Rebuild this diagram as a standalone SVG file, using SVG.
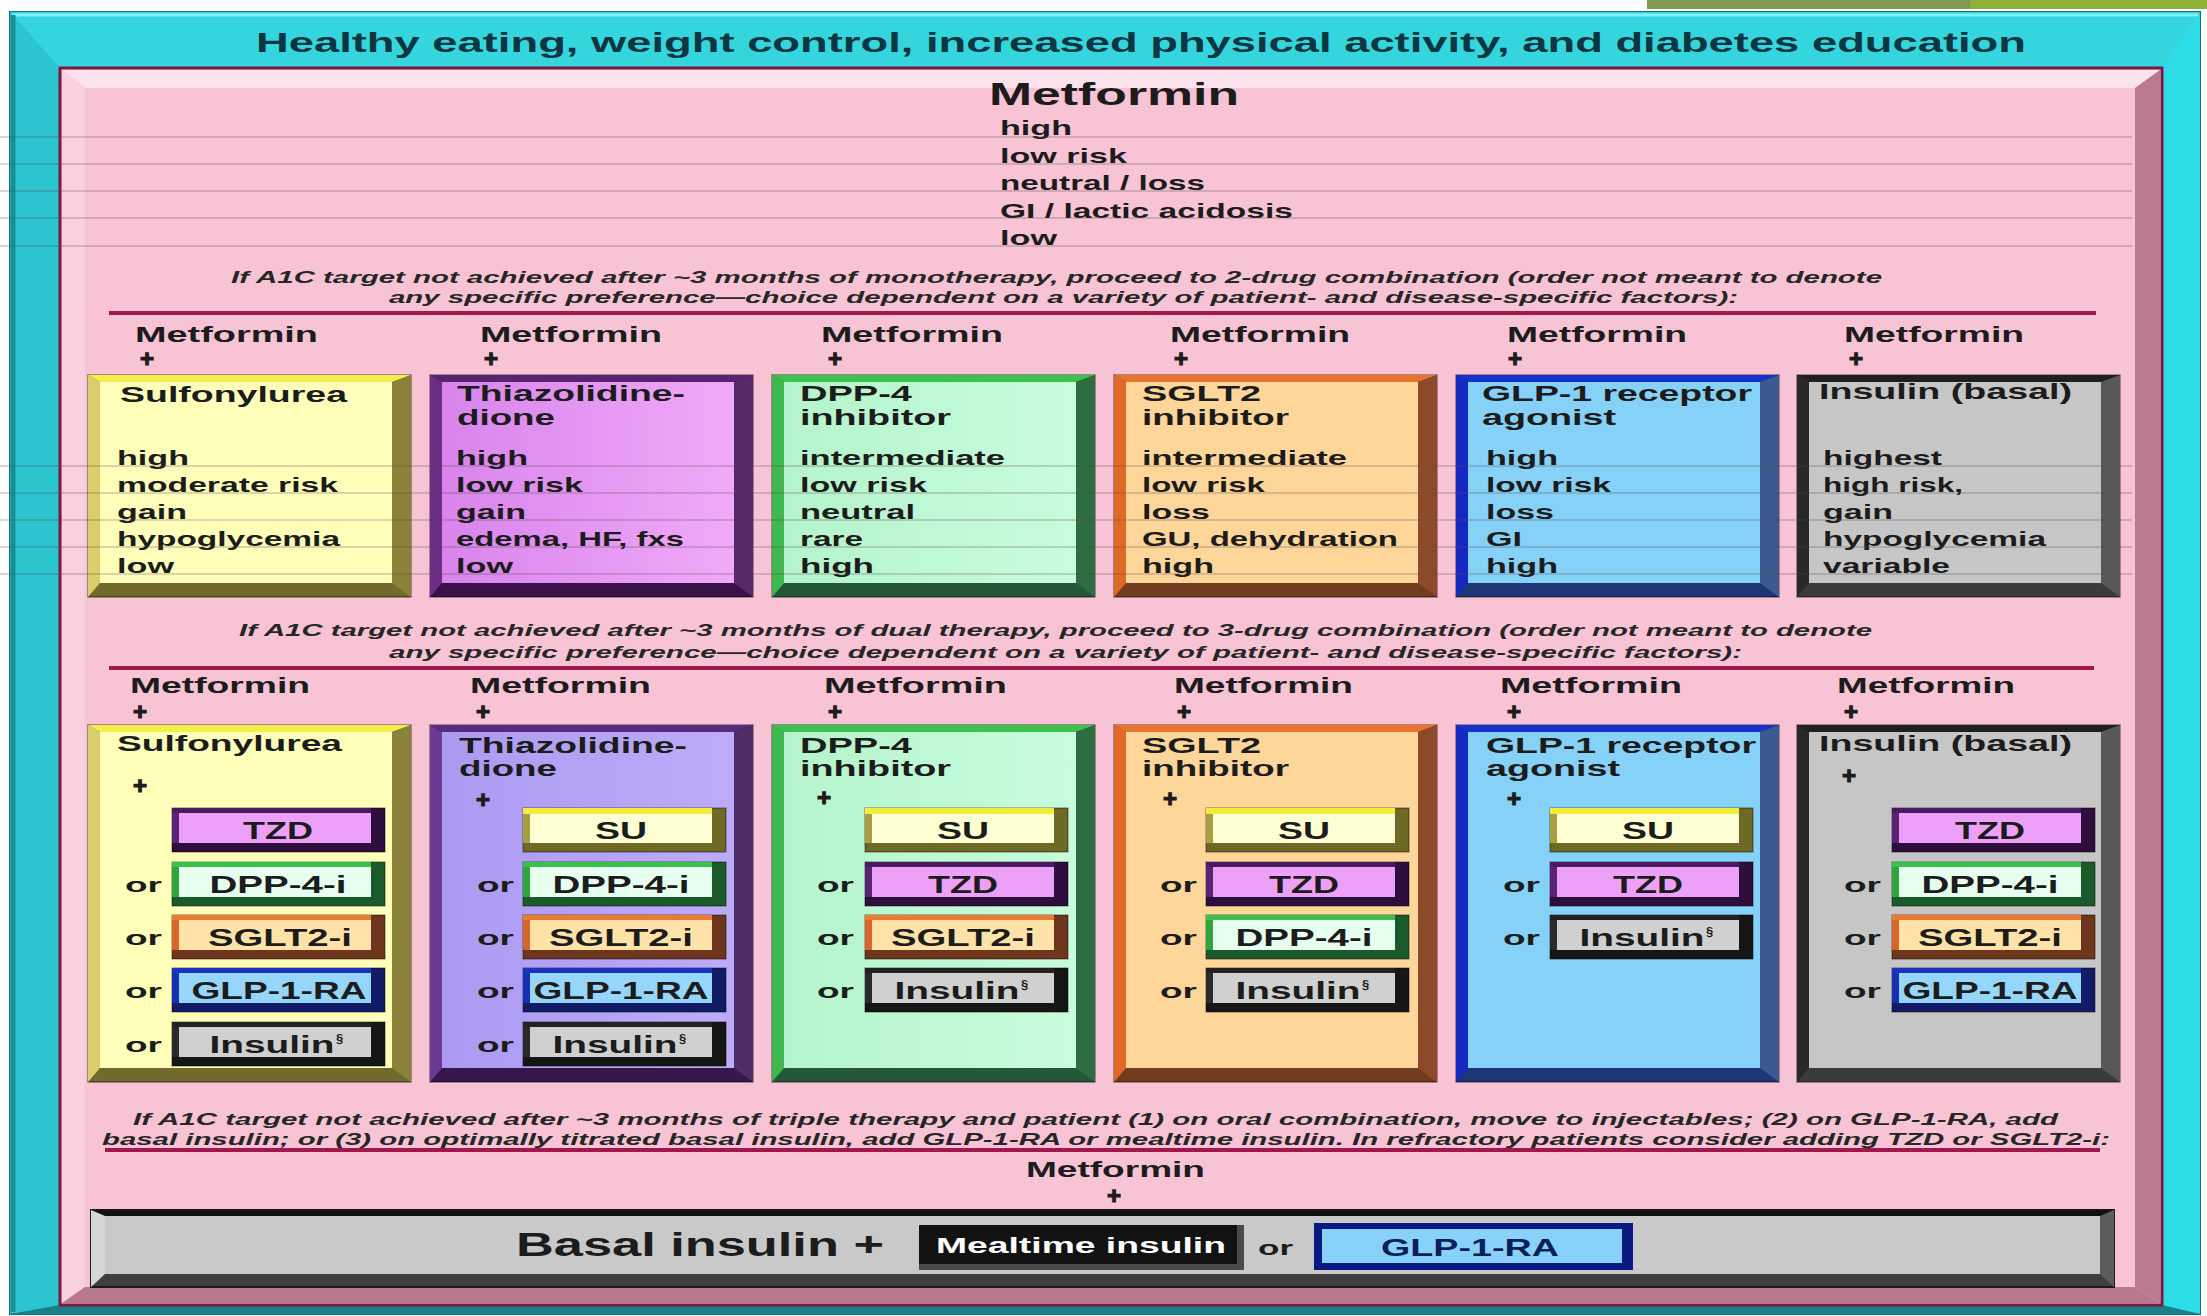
<svg xmlns="http://www.w3.org/2000/svg" width="2207" height="1316" viewBox="0 0 2207 1316">
<style>
text{font-family:"Liberation Sans",Arial,Helvetica,sans-serif;font-weight:bold;fill:#1c1c1c}
.hd{font-size:28px;fill:#0c3642}
.mt{font-size:31px}
.pr{font-size:21px}
.lb{font-size:22px}
.tt{font-size:22px}
.it{font-size:17px;font-style:italic;fill:#262626}
.pl{font-size:24px;text-anchor:middle;stroke:#1c1c1c;stroke-width:1.2}
.pt{font-size:23px;text-anchor:middle}
.or{font-size:20px}
.sx{font-size:13px}
.fl{stroke:#5a4650;stroke-width:2;opacity:.22}
.dv{stroke:#a0184e;stroke-width:4}
.bx .b{stroke:#000;stroke-opacity:.45;stroke-width:1.5}
.bsu .t{fill:#f4ee48}.bsu .l{fill:#d9cd6c}.bsu .r{fill:#8a8238}.bsu .b{fill:#716a2b}.bsu .f{fill:#ffffba}
.btz2 .t{fill:#5c2272}.btz2 .l{fill:#6c2e84}.btz2 .r{fill:#562a68}.btz2 .b{fill:#3a1148}.btz2 .f{fill:url(#gtz2)}
.btz3 .t{fill:#5a2a80}.btz3 .l{fill:#6a3a94}.btz3 .r{fill:#4e2c66}.btz3 .b{fill:#36184c}.btz3 .f{fill:url(#gtz3)}
.bdp .t{fill:#3cc24e}.bdp .l{fill:#3fb84f}.bdp .r{fill:#2e6c42}.bdp .b{fill:#255838}.bdp .f{fill:url(#gdp)}
.bsg .t{fill:#e8742e}.bsg .l{fill:#e0692a}.bsg .r{fill:#8c4a2a}.bsg .b{fill:#733b1f}.bsg .f{fill:#ffd699}
.bgl .t{fill:#1830cc}.bgl .l{fill:#1529c2}.bgl .r{fill:#3c5a90}.bgl .b{fill:#1f3676}.bgl .f{fill:#86d1f7}
.bin .t{fill:#1f1f1f}.bin .l{fill:#282828}.bin .r{fill:#585858}.bin .b{fill:#3b3b3b}.bin .f{fill:#c6c6c6}
.pg .b{stroke:#000;stroke-opacity:.5;stroke-width:1}
.ptz .b{fill:#2e0e3c}.ptz .l{fill:#5a2272}.ptz .t{fill:#4a1a60}.ptz .f{fill:#eda0f7}
.psu .b{fill:#6e6a26}.psu .l{fill:#a8a040}.psu .t{fill:#f2ec3a}.psu .f{fill:#ffffd4}
.pdp .b{fill:#1b5a2a}.pdp .l{fill:#2ea53d}.pdp .t{fill:#3cc04c}.pdp .f{fill:#e6ffee}
.psg .b{fill:#6e361c}.psg .l{fill:#d8662a}.psg .t{fill:#ec7a30}.psg .f{fill:#ffe2a8}
.pgl .b{fill:#121c66}.pgl .l{fill:#1630b4}.pgl .t{fill:#1a34c0}.pgl .f{fill:#96d6fa}
.pin .b{fill:#161616}.pin .l{fill:#2a2a2a}.pin .t{fill:#222}.pin .f{fill:#d0d0d0}
</style>
<defs>
<linearGradient id="gtz2" x1="0" y1="0" x2="1" y2="0"><stop offset="0" stop-color="#d884ec"/><stop offset="1" stop-color="#f0aaf8"/></linearGradient>
<linearGradient id="gtz3" x1="0" y1="0" x2="1" y2="0"><stop offset="0" stop-color="#ac9af2"/><stop offset="1" stop-color="#bcacf8"/></linearGradient>
<linearGradient id="gdp" x1="0" y1="0" x2="1" y2="0"><stop offset="0" stop-color="#b4f4cc"/><stop offset="1" stop-color="#c8fcdc"/></linearGradient>
</defs>

<rect width="2207" height="1316" fill="#ffffff"/>
<rect x="1647" y="0" width="560" height="9" fill="#7e9c50"/>
<rect x="1970" y="0" width="237" height="9" fill="#8db236"/>

<g id="frame-lifestyle">
  <rect x="10" y="12" width="2190" height="1302" fill="#30ccd6" stroke="#17707a" stroke-width="2"/>
  <polygon points="10,12 2200,12 2162,68 60,68" fill="#35d5dd"/>
  <polygon points="10,12 60,68 60,1305 10,1314" fill="#2cc4ce"/>
  <polygon points="2200,12 2200,1314 2162,1305 2162,68" fill="#2cdce6"/>
  <polygon points="10,1314 2200,1314 2162,1305 60,1305" fill="#1a7f88"/>
  <line x1="12" y1="15" x2="2198" y2="15" stroke="#7ef2f4" stroke-width="3"/>
  <line x1="13" y1="15" x2="13" y2="1312" stroke="#1a8e98" stroke-width="5"/>
  <text class="hd" x="256" y="52" textLength="1770" lengthAdjust="spacingAndGlyphs">Healthy eating, weight control, increased physical activity, and diabetes education</text>
</g>

<g id="panel">
  <rect x="60" y="68" width="2102" height="1237" fill="#f8c3d5" stroke="#7a1a44" stroke-width="3"/>
  <polygon points="62,70 2160,70 2135,88 85,88" fill="#fce2ec"/>
  <polygon points="62,70 85,88 85,1287 62,1303" fill="#f9d0de"/>
  <polygon points="2160,70 2160,1303 2135,1287 2135,88" fill="#b97a90"/>
  <polygon points="62,1303 2160,1303 2135,1287 85,1287" fill="#b87890"/>
</g>

<g id="metformin-mono">
  <text class="mt" x="989" y="105" textLength="250" lengthAdjust="spacingAndGlyphs">Metformin</text>
  <text class="pr" x="1000" y="135" textLength="72" lengthAdjust="spacingAndGlyphs">high</text>
  <text class="pr" x="1000" y="163" textLength="127" lengthAdjust="spacingAndGlyphs">low risk</text>
  <text class="pr" x="1000" y="190" textLength="205" lengthAdjust="spacingAndGlyphs">neutral / loss</text>
  <text class="pr" x="1000" y="218" textLength="293" lengthAdjust="spacingAndGlyphs">GI / lactic acidosis</text>
  <text class="pr" x="1000" y="245" textLength="57" lengthAdjust="spacingAndGlyphs">low</text>
</g>

<g id="note-dual">
  <text class="it" x="231" y="283" textLength="1651" lengthAdjust="spacingAndGlyphs">If A1C target not achieved after ~3 months of monotherapy, proceed to 2-drug combination (order not meant to denote</text>
  <text class="it" x="389" y="303" textLength="1349" lengthAdjust="spacingAndGlyphs">any specific preference—choice dependent on a variety of patient- and disease-specific factors):</text>
</g>
<g id="note-triple">
  <text class="it" x="239" y="636" textLength="1633" lengthAdjust="spacingAndGlyphs">If A1C target not achieved after ~3 months of dual therapy, proceed to 3-drug combination (order not meant to denote</text>
  <text class="it" x="389" y="658" textLength="1353" lengthAdjust="spacingAndGlyphs">any specific preference—choice dependent on a variety of patient- and disease-specific factors):</text>
</g>
<g id="note-injectables">
  <text class="it" x="133" y="1125" textLength="1925" lengthAdjust="spacingAndGlyphs">If A1C target not achieved after ~3 months of triple therapy and patient (1) on oral combination, move to injectables; (2) on GLP-1-RA, add</text>
  <text class="it" x="102" y="1145" textLength="2008" lengthAdjust="spacingAndGlyphs">basal insulin; or (3) on optimally titrated basal insulin, add GLP-1-RA or mealtime insulin. In refractory patients consider adding TZD or SGLT2-i:</text>
</g>

<g id="connectors">
  <line class="dv" x1="109" y1="313" x2="2096" y2="313"/>
  <line class="dv" x1="109" y1="668" x2="2094" y2="668"/>
  <line class="dv" x1="105" y1="1150" x2="2100" y2="1150"/>
</g>

<!-- Dual therapy row -->
<g id="dual-su">
  <text class="lb" x="135" y="342" textLength="183" lengthAdjust="spacingAndGlyphs">Metformin</text>
  <text class="pl" x="147" y="367">+</text>
  <g class="bx bsu" transform="translate(88 375)"><rect class="b" width="323" height="222"/><polygon class="t" points="0,0 323,0 304,7 12,7"/><polygon class="l" points="0,0 12,7 12,208 0,222"/><polygon class="r" points="323,0 323,222 304,208 304,7"/><rect class="f" x="12" y="7" width="292" height="201"/></g>
  <text class="tt" x="120" y="402" textLength="227" lengthAdjust="spacingAndGlyphs">Sulfonylurea</text>
  <text class="pr" x="117" y="465" textLength="72" lengthAdjust="spacingAndGlyphs">high</text>
  <text class="pr" x="117" y="492" textLength="221" lengthAdjust="spacingAndGlyphs">moderate risk</text>
  <text class="pr" x="117" y="519" textLength="70" lengthAdjust="spacingAndGlyphs">gain</text>
  <text class="pr" x="117" y="546" textLength="223" lengthAdjust="spacingAndGlyphs">hypoglycemia</text>
  <text class="pr" x="117" y="573" textLength="57" lengthAdjust="spacingAndGlyphs">low</text>
</g>
<g id="dual-tzd">
  <text class="lb" x="480" y="342" textLength="182" lengthAdjust="spacingAndGlyphs">Metformin</text>
  <text class="pl" x="491" y="367">+</text>
  <g class="bx btz2" transform="translate(430 375)"><rect class="b" width="323" height="222"/><polygon class="t" points="0,0 323,0 304,7 12,7"/><polygon class="l" points="0,0 12,7 12,208 0,222"/><polygon class="r" points="323,0 323,222 304,208 304,7"/><rect class="f" x="12" y="7" width="292" height="201"/></g>
  <text class="tt" x="457" y="401" textLength="228" lengthAdjust="spacingAndGlyphs">Thiazolidine-</text>
  <text class="tt" x="457" y="425" textLength="98" lengthAdjust="spacingAndGlyphs">dione</text>
  <text class="pr" x="456" y="465" textLength="72" lengthAdjust="spacingAndGlyphs">high</text>
  <text class="pr" x="456" y="492" textLength="127" lengthAdjust="spacingAndGlyphs">low risk</text>
  <text class="pr" x="456" y="519" textLength="70" lengthAdjust="spacingAndGlyphs">gain</text>
  <text class="pr" x="456" y="546" textLength="228" lengthAdjust="spacingAndGlyphs">edema, HF, fxs</text>
  <text class="pr" x="456" y="573" textLength="57" lengthAdjust="spacingAndGlyphs">low</text>
</g>
<g id="dual-dpp4">
  <text class="lb" x="821" y="342" textLength="182" lengthAdjust="spacingAndGlyphs">Metformin</text>
  <text class="pl" x="835" y="367">+</text>
  <g class="bx bdp" transform="translate(772 375)"><rect class="b" width="323" height="222"/><polygon class="t" points="0,0 323,0 304,7 12,7"/><polygon class="l" points="0,0 12,7 12,208 0,222"/><polygon class="r" points="323,0 323,222 304,208 304,7"/><rect class="f" x="12" y="7" width="292" height="201"/></g>
  <text class="tt" x="800" y="401" textLength="112" lengthAdjust="spacingAndGlyphs">DPP-4</text>
  <text class="tt" x="800" y="425" textLength="151" lengthAdjust="spacingAndGlyphs">inhibitor</text>
  <text class="pr" x="800" y="465" textLength="205" lengthAdjust="spacingAndGlyphs">intermediate</text>
  <text class="pr" x="800" y="492" textLength="127" lengthAdjust="spacingAndGlyphs">low risk</text>
  <text class="pr" x="800" y="519" textLength="115" lengthAdjust="spacingAndGlyphs">neutral</text>
  <text class="pr" x="800" y="546" textLength="63" lengthAdjust="spacingAndGlyphs">rare</text>
  <text class="pr" x="800" y="573" textLength="74" lengthAdjust="spacingAndGlyphs">high</text>
</g>
<g id="dual-sglt2">
  <text class="lb" x="1170" y="342" textLength="180" lengthAdjust="spacingAndGlyphs">Metformin</text>
  <text class="pl" x="1181" y="367">+</text>
  <g class="bx bsg" transform="translate(1114 375)"><rect class="b" width="323" height="222"/><polygon class="t" points="0,0 323,0 304,7 12,7"/><polygon class="l" points="0,0 12,7 12,208 0,222"/><polygon class="r" points="323,0 323,222 304,208 304,7"/><rect class="f" x="12" y="7" width="292" height="201"/></g>
  <text class="tt" x="1142" y="401" textLength="119" lengthAdjust="spacingAndGlyphs">SGLT2</text>
  <text class="tt" x="1142" y="425" textLength="147" lengthAdjust="spacingAndGlyphs">inhibitor</text>
  <text class="pr" x="1142" y="465" textLength="205" lengthAdjust="spacingAndGlyphs">intermediate</text>
  <text class="pr" x="1142" y="492" textLength="123" lengthAdjust="spacingAndGlyphs">low risk</text>
  <text class="pr" x="1142" y="519" textLength="68" lengthAdjust="spacingAndGlyphs">loss</text>
  <text class="pr" x="1142" y="546" textLength="256" lengthAdjust="spacingAndGlyphs">GU, dehydration</text>
  <text class="pr" x="1142" y="573" textLength="72" lengthAdjust="spacingAndGlyphs">high</text>
</g>
<g id="dual-glp1">
  <text class="lb" x="1507" y="342" textLength="180" lengthAdjust="spacingAndGlyphs">Metformin</text>
  <text class="pl" x="1515" y="367">+</text>
  <g class="bx bgl" transform="translate(1456 375)"><rect class="b" width="323" height="222"/><polygon class="t" points="0,0 323,0 304,7 12,7"/><polygon class="l" points="0,0 12,7 12,208 0,222"/><polygon class="r" points="323,0 323,222 304,208 304,7"/><rect class="f" x="12" y="7" width="292" height="201"/></g>
  <text class="tt" x="1482" y="401" textLength="270" lengthAdjust="spacingAndGlyphs">GLP-1 receptor</text>
  <text class="tt" x="1482" y="425" textLength="134" lengthAdjust="spacingAndGlyphs">agonist</text>
  <text class="pr" x="1486" y="465" textLength="72" lengthAdjust="spacingAndGlyphs">high</text>
  <text class="pr" x="1486" y="492" textLength="125" lengthAdjust="spacingAndGlyphs">low risk</text>
  <text class="pr" x="1486" y="519" textLength="68" lengthAdjust="spacingAndGlyphs">loss</text>
  <text class="pr" x="1486" y="546" textLength="36" lengthAdjust="spacingAndGlyphs">GI</text>
  <text class="pr" x="1486" y="573" textLength="72" lengthAdjust="spacingAndGlyphs">high</text>
</g>
<g id="dual-insulin">
  <text class="lb" x="1844" y="342" textLength="180" lengthAdjust="spacingAndGlyphs">Metformin</text>
  <text class="pl" x="1856" y="367">+</text>
  <g class="bx bin" transform="translate(1797 375)"><rect class="b" width="323" height="222"/><polygon class="t" points="0,0 323,0 304,7 12,7"/><polygon class="l" points="0,0 12,7 12,208 0,222"/><polygon class="r" points="323,0 323,222 304,208 304,7"/><rect class="f" x="12" y="7" width="292" height="201"/></g>
  <text class="tt" x="1819" y="399" textLength="253" lengthAdjust="spacingAndGlyphs">Insulin (basal)</text>
  <text class="pr" x="1823" y="465" textLength="119" lengthAdjust="spacingAndGlyphs">highest</text>
  <text class="pr" x="1823" y="492" textLength="140" lengthAdjust="spacingAndGlyphs">high risk,</text>
  <text class="pr" x="1823" y="519" textLength="70" lengthAdjust="spacingAndGlyphs">gain</text>
  <text class="pr" x="1823" y="546" textLength="223" lengthAdjust="spacingAndGlyphs">hypoglycemia</text>
  <text class="pr" x="1823" y="573" textLength="127" lengthAdjust="spacingAndGlyphs">variable</text>
</g>

<!-- Triple therapy row -->
<g id="triple-su">
  <text class="lb" x="130" y="693" textLength="180" lengthAdjust="spacingAndGlyphs">Metformin</text>
  <text class="pl" x="140" y="720">+</text>
  <g class="bx bsu" transform="translate(88 725)"><rect class="b" width="323" height="357"/><polygon class="t" points="0,0 323,0 304,7 12,7"/><polygon class="l" points="0,0 12,7 12,343 0,357"/><polygon class="r" points="323,0 323,357 304,343 304,7"/><rect class="f" x="12" y="7" width="292" height="336"/></g>
  <text class="tt" x="117" y="751" textLength="225" lengthAdjust="spacingAndGlyphs">Sulfonylurea</text>
  <text class="pl" x="140" y="794">+</text>
  <g class="pg ptz" transform="translate(172 808)"><rect class="b" width="213" height="44"/><rect class="l" width="199" height="35"/><rect class="t" width="199" height="5"/><rect class="f" x="7" y="5" width="192" height="30"/></g>
  <text class="pt" x="278" y="839" textLength="70" lengthAdjust="spacingAndGlyphs">TZD</text>
  <text class="or" x="125" y="892" textLength="37" lengthAdjust="spacingAndGlyphs">or</text>
  <g class="pg pdp" transform="translate(172 862)"><rect class="b" width="213" height="44"/><rect class="l" width="199" height="35"/><rect class="t" width="199" height="5"/><rect class="f" x="7" y="5" width="192" height="30"/></g>
  <text class="pt" x="278" y="893" textLength="137" lengthAdjust="spacingAndGlyphs">DPP-4-i</text>
  <text class="or" x="125" y="945" textLength="37" lengthAdjust="spacingAndGlyphs">or</text>
  <g class="pg psg" transform="translate(172 915)"><rect class="b" width="213" height="44"/><rect class="l" width="199" height="35"/><rect class="t" width="199" height="5"/><rect class="f" x="7" y="5" width="192" height="30"/></g>
  <text class="pt" x="280" y="946" textLength="144" lengthAdjust="spacingAndGlyphs">SGLT2-i</text>
  <text class="or" x="125" y="998" textLength="37" lengthAdjust="spacingAndGlyphs">or</text>
  <g class="pg pgl" transform="translate(172 968)"><rect class="b" width="213" height="44"/><rect class="l" width="199" height="35"/><rect class="t" width="199" height="5"/><rect class="f" x="7" y="5" width="192" height="30"/></g>
  <text class="pt" x="279" y="999" textLength="175" lengthAdjust="spacingAndGlyphs">GLP-1-RA</text>
  <text class="or" x="125" y="1052" textLength="37" lengthAdjust="spacingAndGlyphs">or</text>
  <g class="pg pin" transform="translate(172 1022)"><rect class="b" width="213" height="44"/><rect class="l" width="199" height="35"/><rect class="t" width="199" height="5"/><rect class="f" x="7" y="5" width="192" height="30"/></g>
  <text class="pt" x="272" y="1053" textLength="125" lengthAdjust="spacingAndGlyphs">Insulin</text><text class="sx" x="336" y="1043">§</text>
</g>
<g id="triple-tzd">
  <text class="lb" x="470" y="693" textLength="181" lengthAdjust="spacingAndGlyphs">Metformin</text>
  <text class="pl" x="483" y="720">+</text>
  <g class="bx btz3" transform="translate(430 725)"><rect class="b" width="323" height="357"/><polygon class="t" points="0,0 323,0 304,7 12,7"/><polygon class="l" points="0,0 12,7 12,343 0,357"/><polygon class="r" points="323,0 323,357 304,343 304,7"/><rect class="f" x="12" y="7" width="292" height="336"/></g>
  <text class="tt" x="459" y="753" textLength="228" lengthAdjust="spacingAndGlyphs">Thiazolidine-</text>
  <text class="tt" x="459" y="776" textLength="98" lengthAdjust="spacingAndGlyphs">dione</text>
  <text class="pl" x="483" y="808">+</text>
  <g class="pg psu" transform="translate(523 808)"><rect class="b" width="203" height="44"/><rect class="l" width="189" height="35"/><rect class="t" width="189" height="6"/><rect class="f" x="7" y="6" width="182" height="29"/></g>
  <text class="pt" x="621" y="839" textLength="52" lengthAdjust="spacingAndGlyphs">SU</text>
  <text class="or" x="477" y="892" textLength="37" lengthAdjust="spacingAndGlyphs">or</text>
  <g class="pg pdp" transform="translate(523 862)"><rect class="b" width="203" height="44"/><rect class="l" width="189" height="35"/><rect class="t" width="189" height="5"/><rect class="f" x="7" y="5" width="182" height="30"/></g>
  <text class="pt" x="621" y="893" textLength="137" lengthAdjust="spacingAndGlyphs">DPP-4-i</text>
  <text class="or" x="477" y="945" textLength="37" lengthAdjust="spacingAndGlyphs">or</text>
  <g class="pg psg" transform="translate(523 915)"><rect class="b" width="203" height="44"/><rect class="l" width="189" height="35"/><rect class="t" width="189" height="5"/><rect class="f" x="7" y="5" width="182" height="30"/></g>
  <text class="pt" x="621" y="946" textLength="144" lengthAdjust="spacingAndGlyphs">SGLT2-i</text>
  <text class="or" x="477" y="998" textLength="37" lengthAdjust="spacingAndGlyphs">or</text>
  <g class="pg pgl" transform="translate(523 968)"><rect class="b" width="203" height="44"/><rect class="l" width="189" height="35"/><rect class="t" width="189" height="5"/><rect class="f" x="7" y="5" width="182" height="30"/></g>
  <text class="pt" x="621" y="999" textLength="175" lengthAdjust="spacingAndGlyphs">GLP-1-RA</text>
  <text class="or" x="477" y="1052" textLength="37" lengthAdjust="spacingAndGlyphs">or</text>
  <g class="pg pin" transform="translate(523 1022)"><rect class="b" width="203" height="44"/><rect class="l" width="189" height="35"/><rect class="t" width="189" height="5"/><rect class="f" x="7" y="5" width="182" height="30"/></g>
  <text class="pt" x="615" y="1053" textLength="125" lengthAdjust="spacingAndGlyphs">Insulin</text><text class="sx" x="679" y="1043">§</text>
</g>
<g id="triple-dpp4">
  <text class="lb" x="824" y="693" textLength="183" lengthAdjust="spacingAndGlyphs">Metformin</text>
  <text class="pl" x="835" y="720">+</text>
  <g class="bx bdp" transform="translate(772 725)"><rect class="b" width="323" height="357"/><polygon class="t" points="0,0 323,0 304,7 12,7"/><polygon class="l" points="0,0 12,7 12,343 0,357"/><polygon class="r" points="323,0 323,357 304,343 304,7"/><rect class="f" x="12" y="7" width="292" height="336"/></g>
  <text class="tt" x="800" y="753" textLength="112" lengthAdjust="spacingAndGlyphs">DPP-4</text>
  <text class="tt" x="800" y="776" textLength="151" lengthAdjust="spacingAndGlyphs">inhibitor</text>
  <text class="pl" x="824" y="806">+</text>
  <g class="pg psu" transform="translate(865 808)"><rect class="b" width="203" height="44"/><rect class="l" width="189" height="35"/><rect class="t" width="189" height="6"/><rect class="f" x="7" y="6" width="182" height="29"/></g>
  <text class="pt" x="963" y="839" textLength="52" lengthAdjust="spacingAndGlyphs">SU</text>
  <text class="or" x="817" y="892" textLength="37" lengthAdjust="spacingAndGlyphs">or</text>
  <g class="pg ptz" transform="translate(865 862)"><rect class="b" width="203" height="44"/><rect class="l" width="189" height="35"/><rect class="t" width="189" height="5"/><rect class="f" x="7" y="5" width="182" height="30"/></g>
  <text class="pt" x="963" y="893" textLength="70" lengthAdjust="spacingAndGlyphs">TZD</text>
  <text class="or" x="817" y="945" textLength="37" lengthAdjust="spacingAndGlyphs">or</text>
  <g class="pg psg" transform="translate(865 915)"><rect class="b" width="203" height="44"/><rect class="l" width="189" height="35"/><rect class="t" width="189" height="5"/><rect class="f" x="7" y="5" width="182" height="30"/></g>
  <text class="pt" x="963" y="946" textLength="144" lengthAdjust="spacingAndGlyphs">SGLT2-i</text>
  <text class="or" x="817" y="998" textLength="37" lengthAdjust="spacingAndGlyphs">or</text>
  <g class="pg pin" transform="translate(865 968)"><rect class="b" width="203" height="44"/><rect class="l" width="189" height="35"/><rect class="t" width="189" height="5"/><rect class="f" x="7" y="5" width="182" height="30"/></g>
  <text class="pt" x="957" y="999" textLength="125" lengthAdjust="spacingAndGlyphs">Insulin</text><text class="sx" x="1021" y="989">§</text>
</g>
<g id="triple-sglt2">
  <text class="lb" x="1174" y="693" textLength="179" lengthAdjust="spacingAndGlyphs">Metformin</text>
  <text class="pl" x="1184" y="720">+</text>
  <g class="bx bsg" transform="translate(1114 725)"><rect class="b" width="323" height="357"/><polygon class="t" points="0,0 323,0 304,7 12,7"/><polygon class="l" points="0,0 12,7 12,343 0,357"/><polygon class="r" points="323,0 323,357 304,343 304,7"/><rect class="f" x="12" y="7" width="292" height="336"/></g>
  <text class="tt" x="1142" y="753" textLength="119" lengthAdjust="spacingAndGlyphs">SGLT2</text>
  <text class="tt" x="1142" y="776" textLength="147" lengthAdjust="spacingAndGlyphs">inhibitor</text>
  <text class="pl" x="1170" y="807">+</text>
  <g class="pg psu" transform="translate(1206 808)"><rect class="b" width="203" height="44"/><rect class="l" width="189" height="35"/><rect class="t" width="189" height="6"/><rect class="f" x="7" y="6" width="182" height="29"/></g>
  <text class="pt" x="1304" y="839" textLength="52" lengthAdjust="spacingAndGlyphs">SU</text>
  <text class="or" x="1160" y="892" textLength="37" lengthAdjust="spacingAndGlyphs">or</text>
  <g class="pg ptz" transform="translate(1206 862)"><rect class="b" width="203" height="44"/><rect class="l" width="189" height="35"/><rect class="t" width="189" height="5"/><rect class="f" x="7" y="5" width="182" height="30"/></g>
  <text class="pt" x="1304" y="893" textLength="70" lengthAdjust="spacingAndGlyphs">TZD</text>
  <text class="or" x="1160" y="945" textLength="37" lengthAdjust="spacingAndGlyphs">or</text>
  <g class="pg pdp" transform="translate(1206 915)"><rect class="b" width="203" height="44"/><rect class="l" width="189" height="35"/><rect class="t" width="189" height="5"/><rect class="f" x="7" y="5" width="182" height="30"/></g>
  <text class="pt" x="1304" y="946" textLength="137" lengthAdjust="spacingAndGlyphs">DPP-4-i</text>
  <text class="or" x="1160" y="998" textLength="37" lengthAdjust="spacingAndGlyphs">or</text>
  <g class="pg pin" transform="translate(1206 968)"><rect class="b" width="203" height="44"/><rect class="l" width="189" height="35"/><rect class="t" width="189" height="5"/><rect class="f" x="7" y="5" width="182" height="30"/></g>
  <text class="pt" x="1298" y="999" textLength="125" lengthAdjust="spacingAndGlyphs">Insulin</text><text class="sx" x="1362" y="989">§</text>
</g>
<g id="triple-glp1">
  <text class="lb" x="1500" y="693" textLength="182" lengthAdjust="spacingAndGlyphs">Metformin</text>
  <text class="pl" x="1514" y="720">+</text>
  <g class="bx bgl" transform="translate(1456 725)"><rect class="b" width="323" height="357"/><polygon class="t" points="0,0 323,0 304,7 12,7"/><polygon class="l" points="0,0 12,7 12,343 0,357"/><polygon class="r" points="323,0 323,357 304,343 304,7"/><rect class="f" x="12" y="7" width="292" height="336"/></g>
  <text class="tt" x="1486" y="753" textLength="270" lengthAdjust="spacingAndGlyphs">GLP-1 receptor</text>
  <text class="tt" x="1486" y="776" textLength="134" lengthAdjust="spacingAndGlyphs">agonist</text>
  <text class="pl" x="1514" y="807">+</text>
  <g class="pg psu" transform="translate(1550 808)"><rect class="b" width="203" height="44"/><rect class="l" width="189" height="35"/><rect class="t" width="189" height="6"/><rect class="f" x="7" y="6" width="182" height="29"/></g>
  <text class="pt" x="1648" y="839" textLength="52" lengthAdjust="spacingAndGlyphs">SU</text>
  <text class="or" x="1503" y="892" textLength="37" lengthAdjust="spacingAndGlyphs">or</text>
  <g class="pg ptz" transform="translate(1550 862)"><rect class="b" width="203" height="44"/><rect class="l" width="189" height="35"/><rect class="t" width="189" height="5"/><rect class="f" x="7" y="5" width="182" height="30"/></g>
  <text class="pt" x="1648" y="893" textLength="70" lengthAdjust="spacingAndGlyphs">TZD</text>
  <text class="or" x="1503" y="945" textLength="37" lengthAdjust="spacingAndGlyphs">or</text>
  <g class="pg pin" transform="translate(1550 915)"><rect class="b" width="203" height="44"/><rect class="l" width="189" height="35"/><rect class="t" width="189" height="5"/><rect class="f" x="7" y="5" width="182" height="30"/></g>
  <text class="pt" x="1642" y="946" textLength="125" lengthAdjust="spacingAndGlyphs">Insulin</text><text class="sx" x="1706" y="936">§</text>
</g>
<g id="triple-insulin">
  <text class="lb" x="1837" y="693" textLength="178" lengthAdjust="spacingAndGlyphs">Metformin</text>
  <text class="pl" x="1851" y="720">+</text>
  <g class="bx bin" transform="translate(1797 725)"><rect class="b" width="323" height="357"/><polygon class="t" points="0,0 323,0 304,7 12,7"/><polygon class="l" points="0,0 12,7 12,343 0,357"/><polygon class="r" points="323,0 323,357 304,343 304,7"/><rect class="f" x="12" y="7" width="292" height="336"/></g>
  <text class="tt" x="1819" y="751" textLength="253" lengthAdjust="spacingAndGlyphs">Insulin (basal)</text>
  <text class="pl" x="1849" y="784">+</text>
  <g class="pg ptz" transform="translate(1892 808)"><rect class="b" width="203" height="44"/><rect class="l" width="189" height="35"/><rect class="t" width="189" height="5"/><rect class="f" x="7" y="5" width="182" height="30"/></g>
  <text class="pt" x="1990" y="839" textLength="70" lengthAdjust="spacingAndGlyphs">TZD</text>
  <text class="or" x="1844" y="892" textLength="37" lengthAdjust="spacingAndGlyphs">or</text>
  <g class="pg pdp" transform="translate(1892 862)"><rect class="b" width="203" height="44"/><rect class="l" width="189" height="35"/><rect class="t" width="189" height="5"/><rect class="f" x="7" y="5" width="182" height="30"/></g>
  <text class="pt" x="1990" y="893" textLength="137" lengthAdjust="spacingAndGlyphs">DPP-4-i</text>
  <text class="or" x="1844" y="945" textLength="37" lengthAdjust="spacingAndGlyphs">or</text>
  <g class="pg psg" transform="translate(1892 915)"><rect class="b" width="203" height="44"/><rect class="l" width="189" height="35"/><rect class="t" width="189" height="5"/><rect class="f" x="7" y="5" width="182" height="30"/></g>
  <text class="pt" x="1990" y="946" textLength="144" lengthAdjust="spacingAndGlyphs">SGLT2-i</text>
  <text class="or" x="1844" y="998" textLength="37" lengthAdjust="spacingAndGlyphs">or</text>
  <g class="pg pgl" transform="translate(1892 968)"><rect class="b" width="203" height="44"/><rect class="l" width="189" height="35"/><rect class="t" width="189" height="5"/><rect class="f" x="7" y="5" width="182" height="30"/></g>
  <text class="pt" x="1990" y="999" textLength="175" lengthAdjust="spacingAndGlyphs">GLP-1-RA</text>
</g>

<!-- Injectables -->
<g id="injectables">
  <text class="lb" x="1026" y="1177" textLength="179" lengthAdjust="spacingAndGlyphs">Metformin</text>
  <text class="pl" x="1114" y="1204">+</text>
  <rect x="91" y="1210" width="2023" height="77" fill="#3e3e3e" stroke="#1a1a1a" stroke-width="2"/>
  <polygon points="91,1210 2114,1210 2100,1216 105,1216" fill="#111111"/>
  <polygon points="91,1210 105,1216 105,1274 91,1287" fill="#d6d6d6"/>
  <polygon points="2114,1210 2114,1287 2100,1274 2100,1216" fill="#5c5c5c"/>
  <rect x="105" y="1216" width="1995" height="58" fill="#c9c9c9"/>
  <text x="516" y="1256" font-size="34" textLength="368" lengthAdjust="spacingAndGlyphs">Basal insulin +</text>
  <g id="mealtime-insulin">
    <rect x="919" y="1225" width="325" height="45" fill="#4a4a4a"/>
    <rect x="919" y="1225" width="318" height="39" fill="#121212"/>
    <text x="936" y="1253" font-size="22" style="fill:#ffffff" textLength="290" lengthAdjust="spacingAndGlyphs">Mealtime insulin</text>
  </g>
  <text class="or" x="1258" y="1255" textLength="35" lengthAdjust="spacingAndGlyphs">or</text>
  <g id="glp1-ra-final">
    <rect x="1314" y="1223" width="319" height="47" fill="#0b1a80"/>
    <rect x="1322" y="1229" width="300" height="34" fill="#88d2fa"/>
    <text x="1470" y="1256" font-size="23" text-anchor="middle" style="fill:#0c1f5a" textLength="178" lengthAdjust="spacingAndGlyphs">GLP-1-RA</text>
  </g>
</g>

<g id="ruled-lines">
  <line class="fl" x1="0" y1="137" x2="2132" y2="137"/>
  <line class="fl" x1="0" y1="164" x2="2132" y2="164"/>
  <line class="fl" x1="0" y1="191" x2="2132" y2="191"/>
  <line class="fl" x1="0" y1="218" x2="2132" y2="218"/>
  <line class="fl" x1="0" y1="246" x2="2132" y2="246"/>
  <line class="fl" x1="0" y1="466" x2="2132" y2="466"/>
  <line class="fl" x1="0" y1="493" x2="2132" y2="493"/>
  <line class="fl" x1="0" y1="520" x2="2132" y2="520"/>
  <line class="fl" x1="0" y1="547" x2="2132" y2="547"/>
  <line class="fl" x1="0" y1="574" x2="2132" y2="574"/>
</g>
</svg>
